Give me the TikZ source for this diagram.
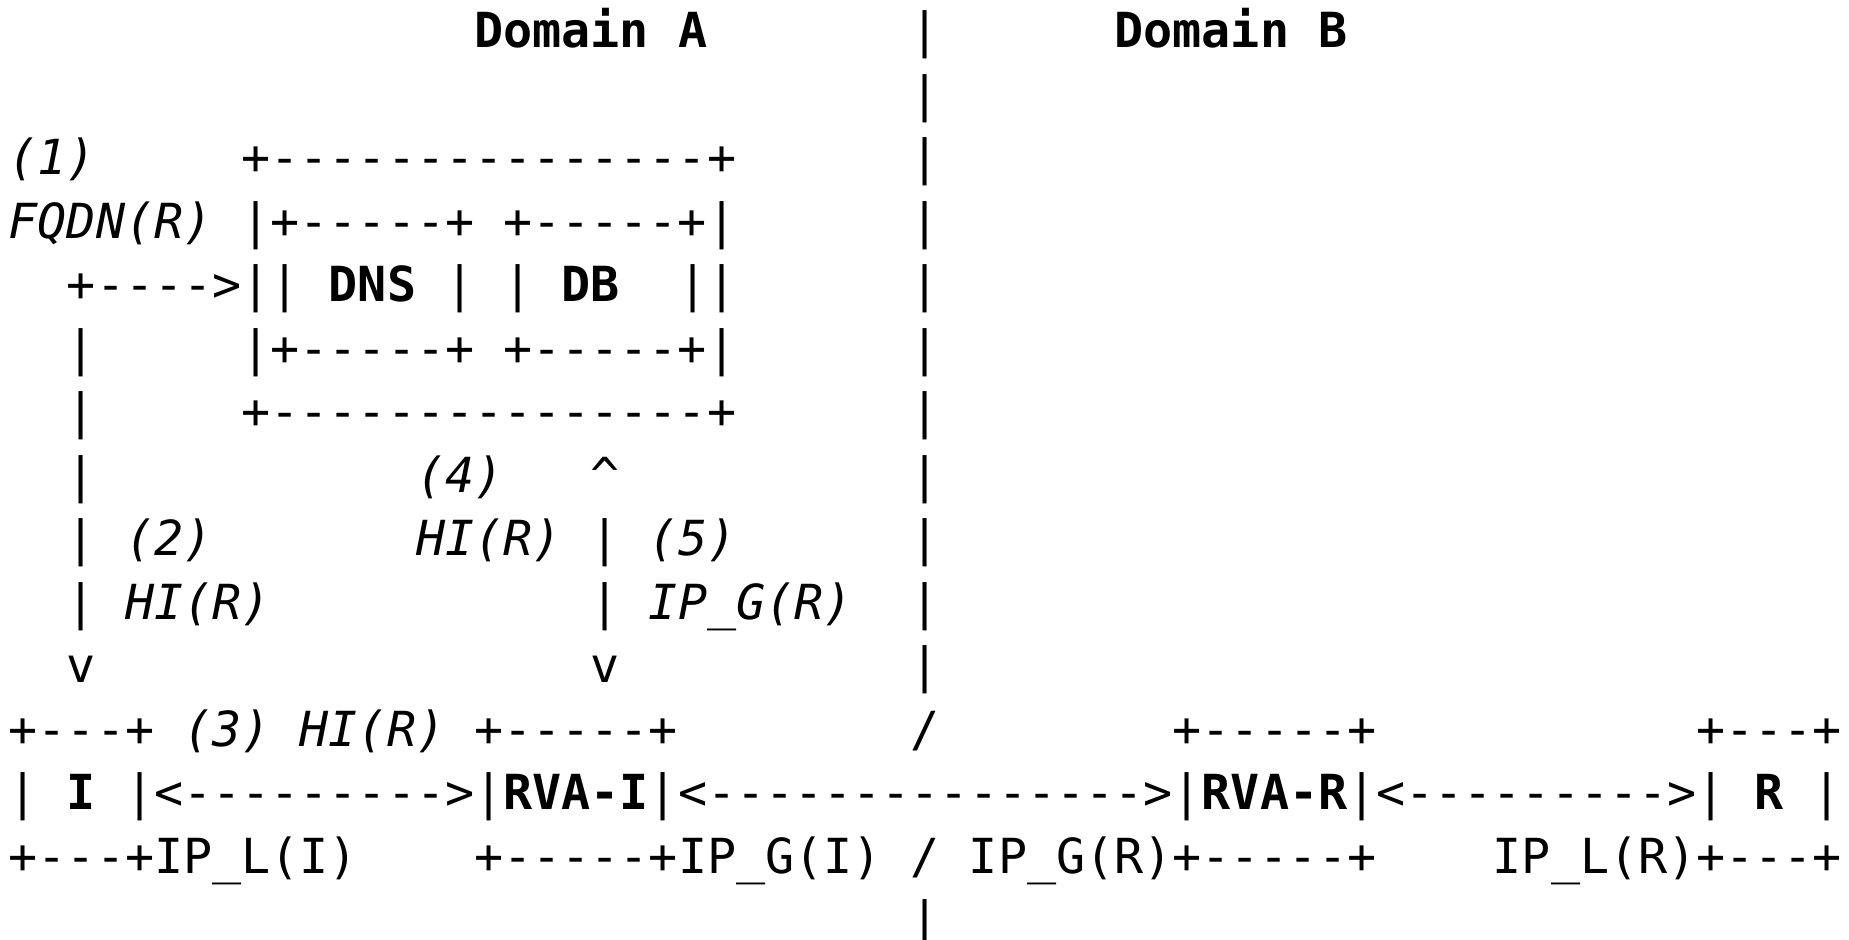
\documentclass[tikz,border=0pt]{standalone}
\usepackage{fontspec}
\setmonofont{DejaVu Sans Mono}[
  BoldFont={DejaVu Sans Mono Bold},
  ItalicFont={DejaVu Sans Mono Oblique}]
\newcommand{\asciifont}{\fontsize{48.33}{58}\selectfont\ttfamily}

\tikzset{
  chars/.style={anchor=base west, inner sep=0pt, outer sep=0pt,
                yshift=-14.5pt, font=\asciifont},
  msg/.style={chars, font=\asciifont\itshape},
  ent/.style={chars, font=\asciifont\bfseries},
}

\begin{document}
\begin{tikzpicture}[x=29.1pt, y=-63.5pt]
    \useasboundingbox (-0.302,-0.52) rectangle (63.24,14.28);

    % Domain border
    \foreach \r in {0,...,10} {
        \node[chars] (border-\r) at (31,\r) {|};
    }
    \node[chars] (border-14) at (31,14) {|};
    \node[ent] (domA) at (16,0) {Domain A};
    \node[ent] (domB) at (38,0) {Domain B};

    % DNS and DB server
    \node[msg]   (step1)  at (0,2) {(1)};
    \node[msg]   (fqdn)   at (0,3) {FQDN(R)};
    \node[chars] (srvtop) at (8,2) {+---------------+};
    \node[chars] (srv3)   at (8,3) {|+-----+ +-----+|};
    \node[chars] (srv4a)  at (8,4) {||};
    \node[ent]   (dns)    at (11,4) {DNS};
    \node[chars] (srv4b)  at (15,4) {| |};
    \node[ent]   (db)     at (19,4) {DB};
    \node[chars] (srv4c)  at (23,4) {||};
    \node[chars] (srv5)   at (8,5) {|+-----+ +-----+|};
    \node[chars] (srvbot) at (8,6) {+---------------+};

    % Lookup path I <-> DNS
    \node[chars] (query) at (2,4) {+---->};
    \foreach \r in {5,...,9} {
        \node[chars] (qbar-\r) at (2,\r) {|};
    }
    \node[chars] (qtip) at (2,10) {v};

    % Path RVA-I <-> DB
    \node[chars] (utip) at (20,7) {\textasciicircum};
    \foreach \r in {8,9} {
        \node[chars] (ubar-\r) at (20,\r) {|};
    }
    \node[chars] (dtip) at (20,10) {v};

    % Messages
    \node[msg] (step4) at (14,7) {(4)};
    \node[msg] (step2) at (4,8)  {(2)};
    \node[msg] (hir4)  at (14,8) {HI(R)};
    \node[msg] (step5) at (22,8) {(5)};
    \node[msg] (hir2)  at (4,9)  {HI(R)};
    \node[msg] (ipg5)  at (22,9) {IP\_G(R)};

    % Hosts and RVAs
    \node[chars] (itop)   at (0,11)  {+---+};
    \node[msg]   (step3)  at (6,11)  {(3) HI(R)};
    \node[chars] (rvaitop) at (16,11) {+-----+};
    \node[chars] (slash1) at (31,11) {/};
    \node[chars] (rvartop) at (40,11) {+-----+};
    \node[chars] (rtop)   at (58,11) {+---+};

    \node[chars] (ileft)  at (0,12)  {|};
    \node[ent]   (hostI)  at (2,12)  {I};
    \node[chars] (linkI)  at (4,12)  {|<--------->|};
    \node[ent]   (rvaI)   at (17,12) {RVA-I};
    \node[chars] (linkG)  at (22,12) {|<--------------->|};
    \node[ent]   (rvaR)   at (41,12) {RVA-R};
    \node[chars] (linkR)  at (46,12) {|<--------->|};
    \node[ent]   (hostR)  at (60,12) {R};
    \node[chars] (rright) at (62,12) {|};

    \node[chars] (ibot)   at (0,13)  {+---+IP\_L(I)};
    \node[chars] (rvabot) at (16,13) {+-----+IP\_G(I) / IP\_G(R)+-----+};
    \node[chars] (rbot)   at (51,13) {IP\_L(R)+---+};
\end{tikzpicture}
\end{document}
